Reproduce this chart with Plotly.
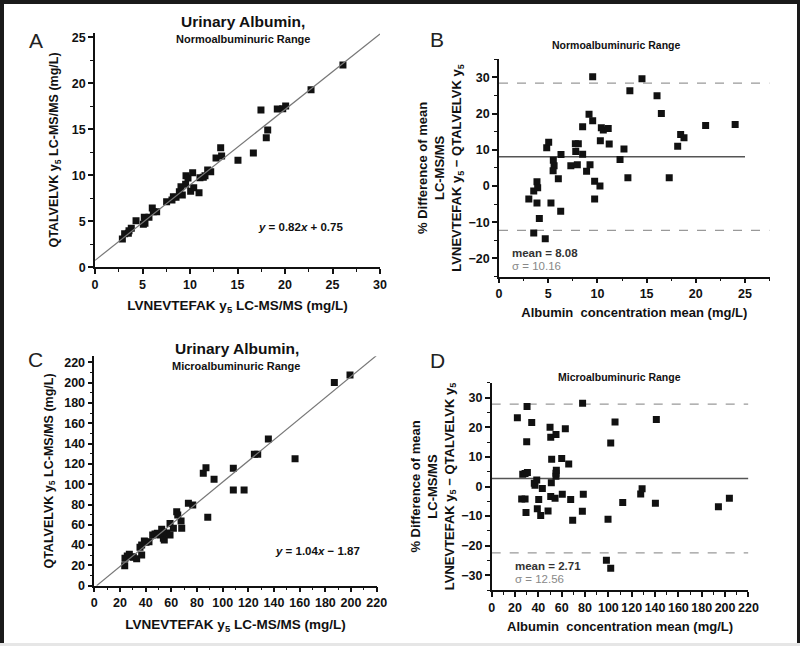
import plotly.graph_objects as go

# ---- panel A: normoalbuminuric, method comparison ----
a_x = [2.88, 3.12, 3.51, 3.58, 3.82, 4.32, 5.09, 5.26, 5.19, 5.68, 6.03, 6.14, 6.49,
       7.54, 8.10, 8.25, 8.53, 8.88, 9.05, 9.19, 9.54, 9.58, 9.79, 10.28, 10.07, 10.39,
       10.95, 11.05, 11.40, 11.58, 11.86, 12.18, 12.74, 13.23, 13.33, 15.05, 16.67,
       17.47, 18.03, 18.18, 19.19, 19.76, 20.07, 22.74, 26.10]
a_y = [3.08, 3.65, 3.69, 3.98, 4.24, 5.07, 4.67, 4.78, 5.43, 5.43, 6.45, 6.05, 6.05,
       7.13, 7.32, 7.68, 7.61, 8.22, 8.76, 7.86, 9.02, 9.96, 9.71, 10.28, 8.26, 8.66,
       8.11, 9.74, 9.78, 9.96, 10.58, 10.39, 11.88, 13.00, 12.10, 11.63, 12.42,
       17.10, 14.09, 14.92, 17.21, 17.24, 17.53, 19.30, 21.99]
a_slope, a_icpt = 0.82, 0.75

# ---- panel B: normoalbuminuric, Bland-Altman ----
b_x = [3.03, 3.53, 3.53, 3.86, 3.93, 3.86, 4.1, 4.7, 4.85, 5.05, 5.28, 5.52, 5.6, 5.5,
       6.03, 6.3, 6.27, 7.3, 7.8, 7.76, 8.06, 7.96, 8.5, 8.5, 8.9, 9.15, 9.25, 9.52,
       9.52, 9.72, 9.72, 10.3, 10.26, 10.4, 10.6, 11.1, 11.2, 12.3, 12.7, 13.1, 13.3,
       14.53, 16.06, 16.5, 17.3, 18.16, 18.46, 18.8, 21.0, 24.0]
b_y = [-3.6, -13.0, -1.4, 1.2, -0.5, -4.7, -9.0, -14.6, 10.6, 12.1, -4.7, 7.1, 5.6, 4.2,
       2.0, 8.7, -7.0, 5.6, 9.5, 11.7, 11.7, 5.9, 16.4, 8.8, 4.1, 19.8, 5.9, 18.0,
       30.2, 1.3, -3.6, 12.5, 0.0, 16.1, 15.5, 15.9, 11.6, 7.3, 10.2, 2.3, 26.3,
       29.6, 24.9, 20.0, 2.3, 11.0, 14.2, 13.3, 16.7, 17.0]
b_mean, b_sd = 8.08, 10.16

# ---- panel C: microalbuminuric, method comparison ----
c_x = [23.7, 23.9, 25.7, 27.3, 29.1, 30.4, 33.0, 36.9, 35.6, 36.9, 39.0, 40.3, 42.6,
       45.5, 47.3, 49.1, 51.2, 52.5, 53.8, 53.8, 54.5, 56.5, 59.0, 59.0, 61.6, 64.2,
       65.0, 67.6, 68.1, 73.3, 76.7, 84.9, 87.0, 88.4, 93.3, 108.3, 108.3, 116.7,
       124.7, 127.3, 135.6, 156.4, 187.0, 199.2]
c_y = [19.7, 27.0, 29.3, 30.9, 28.6, 28.0, 26.6, 30.2, 37.8, 40.1, 44.0, 42.7, 43.3,
       49.9, 50.9, 51.6, 49.9, 55.5, 53.2, 46.7, 45.0, 52.0, 49.9, 61.4, 56.5, 72.9,
       69.6, 63.7, 56.5, 81.2, 79.5, 110.7, 116.2, 67.4, 104.8, 115.6, 94.3, 94.3,
       129.4, 129.4, 144.5, 125.1, 200.3, 207.6]
c_slope, c_icpt = 1.04, -1.87

# ---- panel D: microalbuminuric, Bland-Altman ----
d_x = [22.0, 30.3, 34.3, 30.0, 26.6, 28.6, 30.6, 25.7, 28.6, 29.4, 36.5, 37.1, 38.6,
       39.1, 40.3, 42.0, 43.4, 50.0, 50.6, 55.1, 51.4, 51.1, 50.6, 48.3, 54.3, 55.1,
       55.1, 55.4, 60.0, 60.5, 63.1, 66.0, 67.7, 69.4, 77.9, 77.7, 78.5, 98.3, 102.0,
       99.7, 102.0, 105.7, 112.3, 127.7, 128.9, 140.3, 141.1, 194.3, 203.7]
d_y = [23.2, 27.0, 21.6, 15.1, 4.1, 4.4, 4.7, -4.2, -4.2, -8.8, 1.1, 0.4, 2.2,
       -7.5, -4.4, -9.8, -0.7, 20.0, 16.6, 17.6, 9.2, 1.3, -3.4, -8.3, -4.0, 3.5,
       4.5, 5.5, 9.5, -2.6, 19.5, 7.6, -4.4, -11.4, 28.1, -8.4, -2.6, -24.9, -27.6,
       -11.1, 14.7, 21.8, -5.4, -2.5, -0.8, -5.7, 22.6, -6.8, -4.0]
d_mean, d_sd = 2.71, 12.56

FONT = "Arial, Liberation Sans, sans-serif"
W, H = 800, 646
MARK = dict(symbol="square", size=7, color="#111")


def px(x):
    return x / W


def py(y):
    return 1 - y / H


fig = go.Figure()

# scatter + fit lines
fig.add_trace(go.Scatter(x=a_x, y=a_y, mode="markers", marker=MARK, xaxis="x", yaxis="y"))
fig.add_trace(go.Scatter(x=[0, 30], y=[a_icpt, a_slope * 30 + a_icpt], mode="lines",
                         line=dict(color="#777", width=1.2), xaxis="x", yaxis="y"))

x0c = -c_icpt / c_slope
fig.add_trace(go.Scatter(x=c_x, y=c_y, mode="markers", marker=MARK, xaxis="x3", yaxis="y3"))
fig.add_trace(go.Scatter(x=[x0c, 220], y=[0, c_slope * 220 + c_icpt], mode="lines",
                         line=dict(color="#777", width=1.2), xaxis="x3", yaxis="y3"))


def bland(xs, ys, mean, sd, xa, ya, mean_end, dash_end):
    fig.add_trace(go.Scatter(x=[0, dash_end], y=[mean + 2 * sd] * 2, mode="lines",
                             line=dict(color="#999", width=1.2, dash="dash"), xaxis=xa, yaxis=ya))
    fig.add_trace(go.Scatter(x=[0, dash_end], y=[mean - 2 * sd] * 2, mode="lines",
                             line=dict(color="#999", width=1.2, dash="dash"), xaxis=xa, yaxis=ya))
    fig.add_trace(go.Scatter(x=[0, mean_end], y=[mean, mean], mode="lines",
                             line=dict(color="#555", width=1.6), xaxis=xa, yaxis=ya))
    fig.add_trace(go.Scatter(x=xs, y=ys, mode="markers", marker=MARK, xaxis=xa, yaxis=ya))


bland(b_x, b_y, b_mean, b_sd, "x2", "y2", 25, 27.5)
bland(d_x, d_y, d_mean, d_sd, "x4", "y4", 220, 220)

tickfont = dict(family=FONT, size=12.5, color="#111", weight="bold")


def axis(dom, rng, dtick, minor, title, tsize, standoff, anchor):
    return dict(domain=dom, range=rng, dtick=dtick, tick0=0, anchor=anchor,
                showline=True, linecolor="#111", linewidth=1.5, showgrid=False,
                zeroline=False, ticks="outside", ticklen=5, tickwidth=1.5, tickcolor="#111",
                minor=dict(ticks="outside", ticklen=3, tickwidth=1.2, dtick=minor,
                           tickcolor="#111", showgrid=False),
                tickfont=tickfont, automargin=False,
                title=dict(text=title, standoff=standoff,
                           font=dict(family=FONT, size=tsize, color="#111", weight="bold")))


xt_cmp = "LVNEVTEFAK y<sub>5</sub> LC-MS/MS (mg/L)"
yt_cmp = "QTALVELVK y<sub>5</sub> LC-MS/MS (mg/L)"
xt_ba = "Albumin  concentration mean (mg/L)"
yt_ba = ("% Difference of mean<br>LC-MS/MS<br>"
         "LVNEVTEFAK y<sub>5</sub> − QTALVELVK y<sub>5</sub>")

fig.update_layout(
    width=W, height=H, margin=dict(l=0, r=0, t=0, b=0),
    paper_bgcolor="white", plot_bgcolor="white", showlegend=False,
    font=dict(family=FONT, color="#111"),
    xaxis=axis([px(95), px(380)], [0, 30], 5, 2.5, xt_cmp, 13.5, 10, "y"),
    yaxis=axis([py(267.3), py(32.7)], [0, 25.5], 5, 2.5, yt_cmp, 12.5, 10, "x"),
    xaxis2=axis([px(499), px(769.6)], [0, 27.5], 5, 2.5, xt_ba, 13, 8, "y2"),
    yaxis2=axis([py(276.5), py(59.3)], [-25, 35], 10, 5, yt_ba, 13, 4, "x2"),
    xaxis3=axis([px(94.3), px(376.7)], [0, 220], 20, 10, xt_cmp, 13.5, 10, "y3"),
    yaxis3=axis([py(585.7), py(356.3)], [0, 226], 20, 10, yt_cmp, 12.5, 8, "x3"),
    xaxis4=axis([px(491.7), px(748.4)], [0, 220], 20, 10, xt_ba, 13, 8, "y4"),
    yaxis4=axis([py(590.1), py(382.9)], [-35, 35], 10, 5, yt_ba, 13, 4, "x4"),
)

ann = []


def note(text, x, y, size, xref="paper", yref="paper", color="#111", bold=True,
         xanchor="center"):
    ann.append(dict(text=text, x=x, y=y, xref=xref, yref=yref, showarrow=False,
                    xanchor=xanchor, yanchor="middle",
                    font=dict(family=FONT, size=size, color=color,
                              weight="bold" if bold else "normal")))


# panel letters
note("A", px(36), py(41), 21, bold=False, color="#222")
note("B", px(437), py(39), 21, bold=False, color="#222")
note("C", px(35), py(359), 21, bold=False, color="#222")
note("D", px(437), py(360), 21, bold=False, color="#222")

# panel titles
note("Urinary Albumin,", px(243), py(22), 15.5)
note("Normoalbuminuric Range", px(243), py(39), 11)
note("Normoalbuminuric Range", px(616), py(45), 10.5)
note("Urinary Albumin,", px(237), py(348), 15.5)
note("Microalbuminuric Range", px(236), py(366), 11)
note("Microalbuminuric Range", px(619), py(377), 10.5)

# regression equations
note("<i>y</i> = %.2f<i>x</i> + %.2f" % (a_slope, a_icpt), 21.6, 4.4, 11.5, "x", "y")
note("<i>y</i> = %.2f<i>x</i> − %.2f" % (c_slope, -c_icpt), 173.5, 34.2, 11.5, "x3", "y3")

# Bland-Altman labels
note("mean = %.2f" % b_mean, 1.1, -18.6, 11.5, "x2", "y2", "#333", xanchor="left")
note("σ = %.2f" % b_sd, 1.1, -22.1, 11.5, "x2", "y2", "#888", bold=False, xanchor="left")
note("+2σ", 27.6, b_mean + 2 * b_sd, 12, "x2", "y2", "#888", bold=False, xanchor="left")
note("−2σ", 27.6, b_mean - 2 * b_sd, 12, "x2", "y2", "#888", bold=False, xanchor="left")

note("mean = %.2f" % d_mean, 18.3, -27.0, 11.5, "x4", "y4", "#333", xanchor="left")
note("σ = %.2f" % d_sd, 18.3, -31.4, 11.5, "x4", "y4", "#888", bold=False, xanchor="left")
note("+2σ", 223, d_mean + 2 * d_sd, 12, "x4", "y4", "#888", bold=False, xanchor="left")
note("−2σ", 223, d_mean - 2 * d_sd, 12, "x4", "y4", "#888", bold=False, xanchor="left")

fig.update_layout(annotations=ann)

# dark picture frame
frame = [
    dict(x0=-0.01, x1=1.01, y0=py(4), y1=1.01),
    dict(x0=-0.01, x1=px(4), y0=py(643), y1=1.01),
    dict(x0=px(797), x1=1.01, y0=py(643), y1=1.01),
]
shapes = [dict(type="rect", xref="paper", yref="paper", fillcolor="#1a1a1a",
               line=dict(width=0), layer="above", **f) for f in frame]
shapes.append(dict(type="rect", xref="paper", yref="paper", x0=-0.01, x1=1.01, y0=-0.01,
                   y1=py(643), fillcolor="#e6e6e6", line=dict(width=0), layer="above"))
fig.update_layout(shapes=shapes)

# drop the browser's default body margin so the 800x646 figure fills the window
fig.write_html("out.html", config={"displayModeBar": False},
               post_script="document.body.style.margin='0';document.body.style.overflow='hidden';")
